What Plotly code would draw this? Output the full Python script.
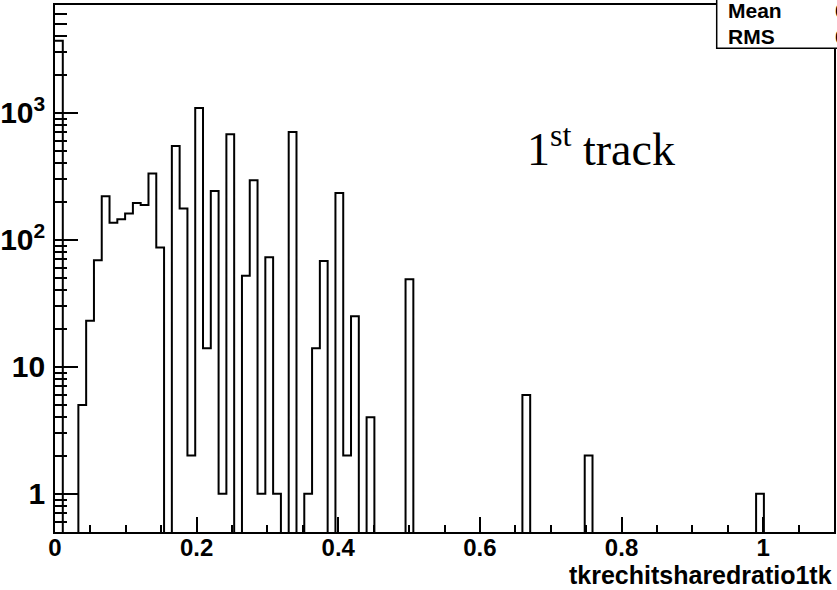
import plotly.graph_objects as go

# ---------------- data ----------------
x_min = 0.0
x_max = 1.1
n_bins = 100
filled_bins = [0, 3, 4, 5, 6, 7, 8, 9, 10, 11, 12, 13, 15, 16, 17, 18, 19, 20,
               21, 22, 24, 25, 26, 27, 28, 30, 32, 33, 34, 36, 37, 38, 40, 45,
               60, 68, 90]
filled_counts = [3700, 5, 23, 69, 220, 136, 145, 161, 195, 188, 332, 87, 548,
                 176, 2, 1093, 14, 242, 1, 678, 52, 294, 1, 73, 1, 707, 1, 14,
                 68, 234, 2, 25, 4, 49, 6, 2, 1]
x_title = "tkrechitsharedratio1tk"
label_text = "1<sup>st</sup> track"

# ---------------- build histogram ----------------
bw = (x_max - x_min) / n_bins
counts = [0] * n_bins
for b, c in zip(filled_bins, filled_counts):
    counts[b] = c
edges = [x_min + i * bw for i in range(n_bins + 1)]

y_lo, y_hi = -0.301, 3.849
floor_val = 10 ** (y_lo - 1)
ys = [c if c > 0 else floor_val for c in counts]
xs = edges[:-1] + [edges[-1]]
ys = ys + [ys[-1]]

centers = [x_min + (i + 0.5) * bw for i in range(n_bins)]
tot = sum(counts)
mean = sum(c * x for c, x in zip(counts, centers)) / tot
rms = (sum(c * (x - mean) ** 2 for c, x in zip(counts, centers)) / tot) ** 0.5

fig = go.Figure()
fig.add_trace(go.Scatter(
    x=xs, y=ys, mode="lines", line=dict(shape="hv", color="black", width=2),
    hoverinfo="skip", showlegend=False))

bold = dict(family="Liberation Sans, Arial, sans-serif", color="black", weight="bold")

fig.update_layout(
    width=837, height=590,
    margin=dict(l=55, r=3, t=5, b=58, pad=0, autoexpand=False),
    paper_bgcolor="white", plot_bgcolor="white",
    showlegend=False,
    xaxis=dict(
        range=[x_min, x_max], showgrid=False, zeroline=False, automargin=False,
        showline=True, linecolor="black", linewidth=2, mirror=True,
        ticks="inside", ticklen=15, tickwidth=2, tickcolor="black",
        tick0=0, dtick=0.2, tickformat="~g", ticklabelstandoff=-7,
        tickfont=dict(size=24, **bold),
        minor=dict(ticks="inside", ticklen=7, tickwidth=2, tickcolor="black", dtick=0.05, showgrid=False),
    ),
    yaxis=dict(
        type="log", range=[y_lo, y_hi], showgrid=False, zeroline=False, automargin=False,
        showline=True, linecolor="black", linewidth=2, mirror=True,
        ticks="inside", ticklen=23, tickwidth=2, tickcolor="black",
        tickmode="linear", tick0=0, dtick=1, exponentformat="power", ticklabelstandoff=3,
        tickfont=dict(size=24, **bold),
        minor=dict(ticks="inside", ticklen=12, tickwidth=2, tickcolor="black", dtick="D1", showgrid=False),
    ),
)

# stats box (top-right, partially outside the page)
fig.add_shape(type="rect", xref="paper", yref="paper",
              x0=(716.7 - 55) / 779, x1=1.02, y0=(532 - 48.3) / 527, y1=1.05,
              fillcolor="white", line=dict(color="black", width=1.5), layer="above")
fig.add_annotation(text="Mean", xref="paper", yref="paper", x=(726 - 55) / 779, y=(532 - 10) / 527,
                   xanchor="left", yanchor="middle", showarrow=False, font=dict(size=21, **bold))
fig.add_annotation(text="RMS", xref="paper", yref="paper", x=(726 - 55) / 779, y=(532 - 36) / 527,
                   xanchor="left", yanchor="middle", showarrow=False, font=dict(size=21, **bold))
fig.add_annotation(text=f"{mean:.4f}", xref="paper", yref="paper", x=(833 - 55) / 779, y=(532 - 10) / 527,
                   xanchor="left", yanchor="middle", showarrow=False, font=dict(size=21, **bold))
fig.add_annotation(text=f"{rms:.4f}", xref="paper", yref="paper", x=(833 - 55) / 779, y=(532 - 36) / 527,
                   xanchor="left", yanchor="middle", showarrow=False, font=dict(size=21, **bold))

# x axis title
fig.add_annotation(text=x_title, xref="paper", yref="paper", x=1.0, y=-(575 - 532) / 527,
                   xanchor="right", yanchor="middle", showarrow=False, font=dict(size=25, **bold))

# "1st track" label
fig.add_annotation(text=label_text, xref="paper", yref="paper", x=(525 - 55) / 779, y=(532 - 146) / 527,
                   xanchor="left", yanchor="middle", showarrow=False,
                   font=dict(size=46, family="Liberation Serif, Times New Roman, serif", color="black"))

fig.write_html("out.html")
